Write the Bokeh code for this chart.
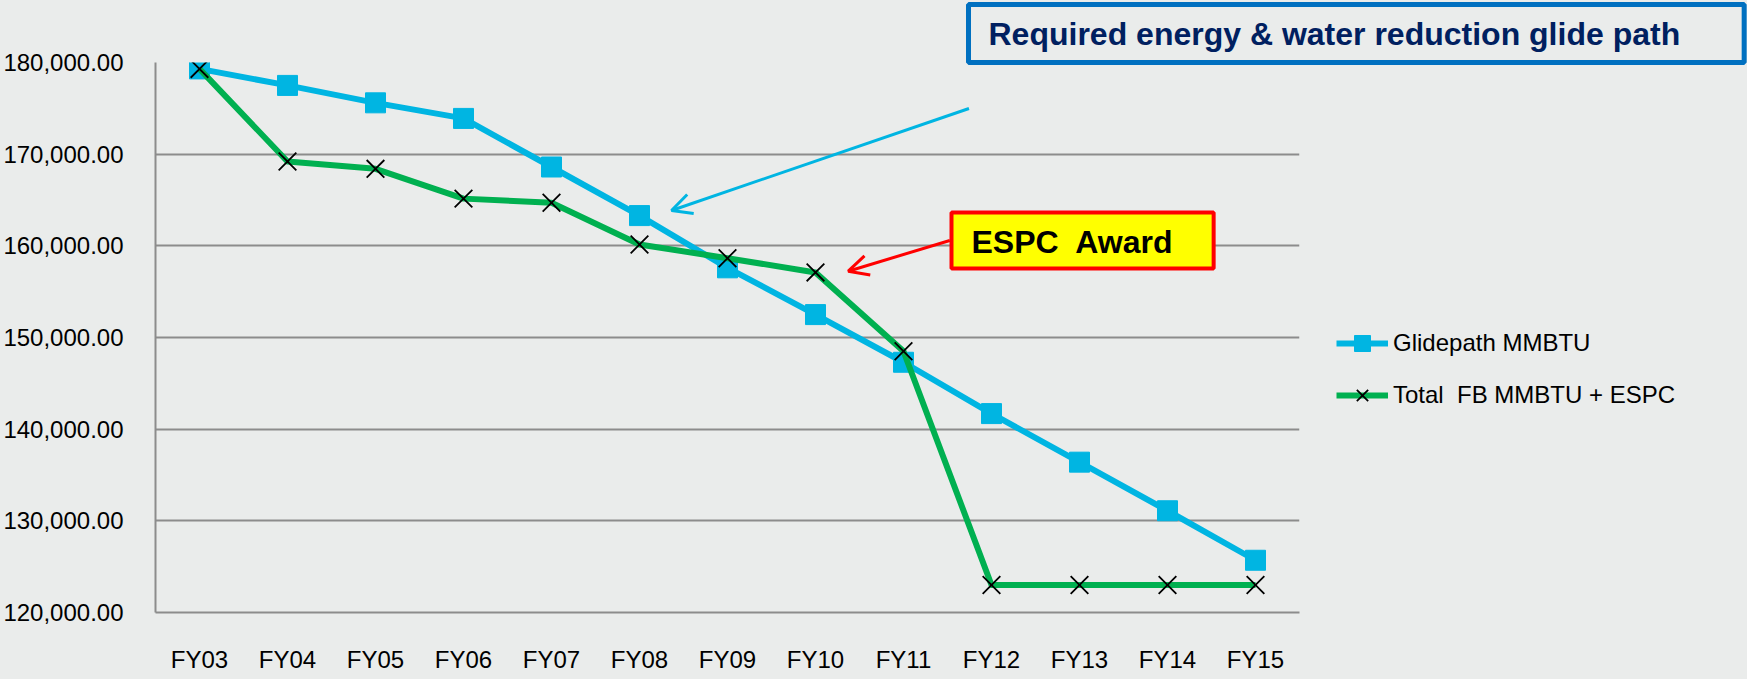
from bokeh.plotting import figure
from bokeh.models import (FactorRange, Range1d, FixedTicker, NumeralTickFormatter,
                          Legend, LegendItem, Label, Arrow, OpenHead, Title)
from bokeh.embed import file_html
from bokeh.resources import INLINE

# ---------------- data ----------------
years = ["FY03", "FY04", "FY05", "FY06", "FY07", "FY08", "FY09",
         "FY10", "FY11", "FY12", "FY13", "FY14", "FY15"]
glidepath = [179300, 177500, 175600, 173900, 168600, 163300, 157600,
             152500, 147300, 141700, 136400, 131100, 125700]
total_fb = [179300, 169200, 168400, 165150, 164700, 160150, 158650,
            157100, 148500, 123000, 123000, 123000, 123000]
y_ticks = [120000, 130000, 140000, 150000, 160000, 170000, 180000]
glide_label = "Glidepath MMBTU"
total_label = "Total\u00a0 FB MMBTU + ESPC"
title_text = "Required energy & water reduction glide path"
award_text = "ESPC\u00a0 Award"

# ---------------- style ----------------
BG = "#eaeceb"
BLUE = "#00B5E2"
GREEN = "#00B050"
GRID = "#8c8c8c"
FONT = "Liberation Sans"

p = figure(x_range=FactorRange(*years), y_range=Range1d(y_ticks[0], y_ticks[-1]),
           frame_width=1144, frame_height=550,
           min_border_left=154, min_border_right=448,
           min_border_top=62, min_border_bottom=66,
           output_backend="svg", toolbar_location=None,
           background_fill_color=BG, border_fill_color=BG,
           outline_line_color=None)

p.xgrid.grid_line_color = None
p.ygrid.grid_line_color = GRID
p.ygrid.grid_line_width = 2
p.ygrid.ticker = FixedTicker(ticks=y_ticks)

p.yaxis.ticker = FixedTicker(ticks=y_ticks)
p.yaxis.formatter = NumeralTickFormatter(format="0,0.00")
for ax in (p.xaxis[0], p.yaxis[0]):
    ax.axis_line_color = GRID
    ax.axis_line_width = 2
    ax.major_tick_line_color = None
    ax.minor_tick_line_color = None
    ax.major_label_text_font = FONT
    ax.major_label_text_font_size = "24px"
    ax.major_label_text_color = "black"
p.yaxis.major_label_standoff = 26
p.xaxis.major_label_standoff = 27

bl = p.line(years, glidepath, line_color=BLUE, line_width=6, line_join="round")
sq = p.scatter(years, glidepath, marker="square", size=20,
               fill_color=BLUE, line_color=BLUE)
gl = p.line(years, total_fb, line_color=GREEN, line_width=6, line_join="round")
xm = p.scatter(years, total_fb, marker="x", size=25,
               line_color="black", line_width=1.8)

# series legend, in the right side panel
legend = Legend(items=[LegendItem(label=glide_label, renderers=[bl, sq]),
                       LegendItem(label=total_label, renderers=[gl, xm])],
                location=(37, 197), glyph_width=52, glyph_height=40,
                label_height=40, spacing=12, padding=0, margin=0,
                border_line_color=None, background_fill_alpha=0,
                label_text_font=FONT, label_text_font_size="24px",
                label_standoff=5, label_text_color="black")
p.add_layout(legend, "right")

# boxed heading, in the top side panel
heading = Title(text=title_text, align="left", offset=813, vertical_align="bottom",
                standoff=0, text_font=FONT, text_font_style="bold",
                text_font_size="32px", text_color="#002060",
                border_line_color="#0070C0", border_line_width=5,
                background_fill_color=None,
                padding=dict(left=20, right=64, top=11, bottom=11))
p.add_layout(heading, "above")

award = Label(x=796, y=400, x_units="screen", y_units="screen", text=award_text,
              text_font=FONT, text_font_style="bold", text_font_size="32px",
              text_color="black", text_align="left", text_baseline="top",
              border_line_color="#FF0000", border_line_width=4,
              background_fill_color="#FFFF00",
              padding=dict(left=20, right=40, top=11, bottom=9))
p.add_layout(award)

p.add_layout(Arrow(x_start=9.244, y_start=174982, x_end=5.864, y_end=163855,
                   line_color=BLUE, line_width=3,
                   end=OpenHead(size=20, line_color=BLUE, line_width=3)))
p.add_layout(Arrow(x_start=9.026, y_start=160582, x_end=7.872, y_end=157233,
                   line_color="#FF0000", line_width=3,
                   end=OpenHead(size=20, line_color="#FF0000", line_width=3)))

html = file_html(p, INLINE)
html = html.replace("<head>", "<head><style>body{background:%s}</style>" % BG, 1)
open("out.html", "w").write(html)
